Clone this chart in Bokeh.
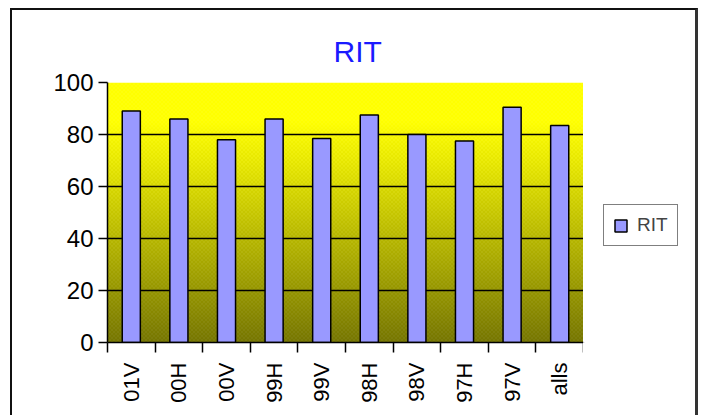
import math
import numpy as np
from bokeh.plotting import figure
from bokeh.layouts import row
from bokeh.models import Range1d, FixedTicker, Legend, LegendItem, ColumnDataSource
from bokeh.embed import file_html
from bokeh.resources import INLINE

# ---- data ----
categories = ["01V", "00H", "00V", "99H", "99V", "98H", "98V", "97H", "97V", "alls"]
rit_values = [89, 86, 78, 86, 78.5, 87.5, 80, 77.5, 90.5, 83.5]
y_ticks = [0, 20, 40, 60, 80, 100]
series_name = "RIT"
chart_title = "RIT"

n = len(categories)
xs = list(range(n))
src = ColumnDataSource(dict(x=xs, top=rit_values, cat=categories))

FONT = "Liberation Sans"
BAR_FILL = "#9999FF"

p = figure(width=571, height=405, output_backend="svg", toolbar_location=None,
           x_range=Range1d(-0.5, n - 0.5), y_range=Range1d(y_ticks[0], y_ticks[-1]),
           min_border_left=95, min_border_right=0, min_border_top=72, min_border_bottom=73,
           border_fill_color="white", background_fill_color="white",
           outline_line_color=None)

# title
p.title.text = chart_title
p.title.align = "left"
p.title.text_font = FONT
p.title.text_font_size = "30px"
p.title.text_font_style = "normal"
p.title.text_color = "#1a1aff"
p.title.standoff = 30
p.title.offset = 226

# gradient background (style only)
IH, IW = 260, 476
rows = np.arange(IH)[:, None]
cols = np.arange(IW)[None, :]
frac = np.clip((rows / (IH - 1)) / 0.85, 0, 1)  # 0 bottom -> 1 near top
base = 118 + 137 * frac
mask = (((rows % 4) == 0) & ((cols % 4) == 0)) | (((rows % 4) == 2) & ((cols % 4) == 2))
R = np.clip(base + mask * 22, 0, 255)
B = np.where(mask, 50, 0) * np.ones_like(base)
img = np.empty((IH, IW), dtype=np.uint32)
view = img.view(dtype=np.uint8).reshape((IH, IW, 4))
view[..., 0] = R.astype(np.uint8)
view[..., 1] = R.astype(np.uint8)
view[..., 2] = B.astype(np.uint8)
view[..., 3] = 255
p.image_rgba(image=[img], x=-0.5, y=y_ticks[0], dw=n, dh=y_ticks[-1] - y_ticks[0], level="image")

bars = p.vbar(x="x", top="top", width=0.38, source=src, fill_color=BAR_FILL,
              line_color="black", line_width=1.5)

# grid
p.xgrid.visible = False
p.ygrid.ticker = FixedTicker(ticks=y_ticks[1:-1])
p.ygrid.grid_line_color = "black"
p.ygrid.grid_line_width = 1.5

# y axis
ya = p.yaxis[0]
ya.ticker = FixedTicker(ticks=y_ticks)
ya.axis_line_color = "black"
ya.axis_line_width = 1.5
ya.major_tick_line_color = "black"
ya.major_tick_line_width = 1.5
ya.major_tick_out = 9
ya.major_tick_in = 0
ya.minor_tick_line_color = None
ya.major_label_text_font = FONT
ya.major_label_text_font_size = "24px"
ya.major_label_text_color = "black"
ya.major_label_standoff = 5

# x axis
xa = p.xaxis[0]
xa.ticker = FixedTicker(ticks=xs, minor_ticks=[i - 0.5 for i in range(n + 1)])
xa.major_label_overrides = {i: c for i, c in zip(xs, categories)}
xa.axis_line_color = "black"
xa.axis_line_width = 1.5
xa.major_tick_line_color = None
xa.major_tick_out = 10
xa.major_tick_in = 0
xa.minor_tick_line_color = "black"
xa.minor_tick_line_width = 1.5
xa.minor_tick_out = 10
xa.minor_tick_in = 0
xa.major_label_orientation = math.pi / 2
xa.major_label_text_font = FONT
xa.major_label_text_font_size = "22px"
xa.major_label_text_color = "black"
xa.major_label_standoff = 10

# legend panel (separate small figure to the right); its swatch renderer holds a
# single zero-size bar far outside the visible range, so it draws nothing itself
p2 = figure(width=112, height=405, output_backend="svg", toolbar_location=None,
            x_range=Range1d(0, 1), y_range=Range1d(1, 2),
            min_border=0, border_fill_color="white", background_fill_color="white",
            outline_line_color=None)
p2.axis.visible = False
p2.grid.visible = False
swatch_src = ColumnDataSource(dict(x=[-50], top=[-50], bottom=[-50]))
leg_bar = p2.vbar(x="x", top="top", bottom="bottom", width=0.01, source=swatch_src,
                  fill_color=BAR_FILL, line_color="black", line_width=1.5)

legend = Legend(items=[LegendItem(label=series_name, renderers=[leg_bar])], location=(20, 96))
legend.border_line_color = "black"
legend.border_line_width = 1.5
legend.background_fill_color = "white"
legend.background_fill_alpha = 1
legend.label_text_font = FONT
legend.label_text_font_size = "19px"
legend.glyph_width = 15
legend.glyph_height = 15
legend.label_standoff = 9
legend.padding = 9
legend.margin = 0
p2.add_layout(legend)

layout = row(p, p2, styles={"border-top": "2px solid #111", "border-left": "2px solid #111",
                            "border-right": "3px solid #333", "margin-left": "10px",
                            "margin-top": "8px", "width": "683px",
                            "box-sizing": "content-box"})

open("out.html", "w").write(file_html(layout, INLINE))
